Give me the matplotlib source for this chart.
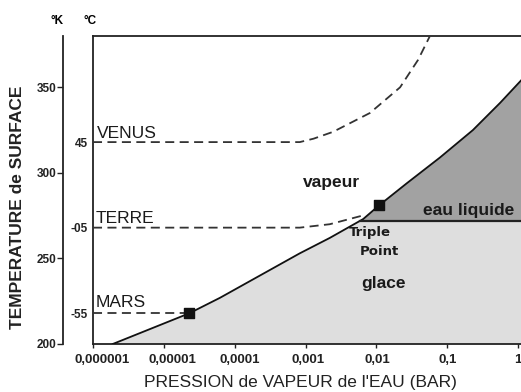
import matplotlib
matplotlib.use("Agg")
import matplotlib.pyplot as plt
import matplotlib.transforms as mtransforms
import numpy as np

plt.rcParams['font.family'] = ['Liberation Sans', 'DejaVu Sans']

# Sublimation / vaporisation curve of water (pressure in bar, temperature in K)
curve_p = [1.9e-6, 2.3e-5, 6.2e-5, 8.3e-4, 2.2e-3, 6.5e-3, 1.09e-2, 2.7e-2, 7.9e-2, 0.23, 0.56, 1.1]
curve_t = [200, 218, 227, 253, 262, 273, 281, 294, 309, 325, 341, 354]

# Melting line (liquid / ice boundary)
melt_t = 272

# Planet surface paths
venus_p = [1e-6, 8.3e-4, 1.3e-3, 2.45e-3, 8.1e-3, 2.16e-2, 3.87e-2, 5.7e-2]
venus_t = [318, 318, 320, 324, 335, 350, 366, 380]
terre_p = [1e-6, 8.3e-4, 2.2e-3, 6.3e-3]
terre_t = [268, 268, 270, 275]
mars_p = [1e-6, 2.3e-5]
mars_t = [218, 218]

# Marked points: Mars surface and triple point
marker_p = [2.3e-5, 1.09e-2]
marker_t = [218, 281]

# Axis ticks
x_ticks = [1e-6, 1e-5, 1e-4, 1e-3, 1e-2, 1e-1, 1]
x_labels = ["0,000001", "0,00001", "0,0001", "0,001", "0,01", "0,1", "1"]
k_ticks = [200, 250, 300, 350]
c_ticks = [318, 268, 218]
c_labels = ["45", "-05", "-55"]

W, H = 521, 392
fig = plt.figure(figsize=(W / 100, H / 100), dpi=100)
ax = fig.add_axes([93 / W, (H - 344) / H, (W - 93) / W, (344 - 36) / H])
ax.set_xscale('log')
ax.set_xlim(1e-6, 1.1)
ax.set_ylim(200, 380)

cp = np.array(curve_p)
ct = np.array(curve_t)
xmax = 1.1

# Ice region: right of the curve, below the melting line
i_melt = np.interp(melt_t, ct, np.log10(cp))
below = ct < melt_t
ice_x = np.concatenate([cp[below], [10 ** i_melt, xmax, xmax]])
ice_y = np.concatenate([ct[below], [melt_t, melt_t, 200]])
ax.fill(np.append(ice_x, cp[0]), np.append(ice_y, 200), color='#dedede', lw=0, zorder=1)

# Liquid region: right of the curve, above the melting line
above = ct > melt_t
liq_x = np.concatenate([[10 ** i_melt], cp[above], [xmax]])
liq_y = np.concatenate([[melt_t], ct[above], [melt_t]])
ax.fill(liq_x, liq_y, color='#a2a2a2', lw=0, zorder=1)

ax.plot(curve_p, curve_t, color='#111111', lw=1.3, zorder=3)
ax.plot([10 ** i_melt, xmax], [melt_t, melt_t], color='#222222', lw=1.6, zorder=3)

dash = dict(color='#333333', lw=1.3, dashes=(5, 3), zorder=3)
ax.plot(venus_p, venus_t, **dash)
ax.plot(terre_p, terre_t, **dash)
ax.plot(mars_p, mars_t, **dash)

ax.scatter(marker_p, marker_t, marker='s', s=60, color='#111111', zorder=5)

# Region and planet labels
big = dict(fontsize=12.5, color='#1a1a1a')
ax.text(1.15e-6, 323.3, "VENUS", ha='left', va='center', **big)
ax.text(1.1e-6, 273.6, "TERRE", ha='left', va='center', **big)
ax.text(1.1e-6, 224, "MARS", ha='left', va='center', **big)
lab = dict(fontsize=12.5, fontweight='bold', color='#1a1a1a', ha='center', va='center')
ax.text(10 ** -2.64, 294.1, "vapeur", **lab)
ax.text(10 ** -0.70, 278, "eau liquide", **lab)
ax.text(10 ** -1.90, 235.6, "glace", **lab)
small = dict(fontsize=9.5, fontweight='bold', color='#1a1a1a', ha='center', va='center',
             family='DejaVu Sans')
ax.text(10 ** -2.09, 264.9, "Triple", **small)
ax.text(10 ** -1.96, 253.8, "Point", **small)

# Frame: left, top and bottom only
for side in ('left', 'top', 'bottom'):
    ax.spines[side].set_linewidth(1.3)
    ax.spines[side].set_color('#222222')
ax.spines['right'].set_visible(False)

ax.set_xticks(x_ticks)
ax.set_xticklabels(x_labels)
ax.xaxis.set_minor_locator(matplotlib.ticker.NullLocator())
ax.tick_params(axis='x', direction='out', length=3, width=1, pad=4,
               labelsize=9.5, colors='#222222')
for t in ax.get_xticklabels():
    t.set_fontweight('bold')
shifts = [9, 9, 5, 3, 1, 0, 0]
for t, dx in zip(ax.get_xticklabels(), shifts):
    t.set_transform(t.get_transform() + mtransforms.ScaledTranslation(dx / 100, 0, fig.dpi_scale_trans))
ax.tick_params(axis='y', left=False, labelleft=False)

# Kelvin scale on a separate spine to the left
sec = ax.secondary_yaxis(-30 / 428)
sec.set_yticks(k_ticks)
sec.spines['left'].set_linewidth(1.3)
sec.spines['left'].set_color('#222222')
sec.tick_params(axis='y', direction='out', length=4, width=1, pad=1, labelsize=8.5, colors='#222222')
for t in sec.get_yticklabels():
    t.set_fontweight('bold')

# Celsius values next to the main frame
ctrans = mtransforms.blended_transform_factory(ax.transAxes, ax.transData)
for v, s in zip(c_ticks, c_labels):
    ax.text(-0.012, v - 1, s, transform=ctrans, ha='right', va='center',
            fontsize=8.5, fontweight='bold', color='#222222')

fig.text(57 / W, 1 - 21 / H, "°K", ha='center', va='center', fontsize=8.5, fontweight='bold')
fig.text(90 / W, 1 - 21 / H, "°C", ha='center', va='center', fontsize=8.5, fontweight='bold')

fig.text(18 / W, 1 - 207 / H, "TEMPERATURE de SURFACE", rotation=90, ha='center', va='center',
         fontsize=12.5, fontweight='bold', color='#222222')
fig.text(300 / W, 1 - 383 / H, "PRESSION de VAPEUR de l'EAU (BAR)", ha='center', va='center',
         fontsize=12.5, color='#222222')

fig.savefig("out.png", dpi=100)
